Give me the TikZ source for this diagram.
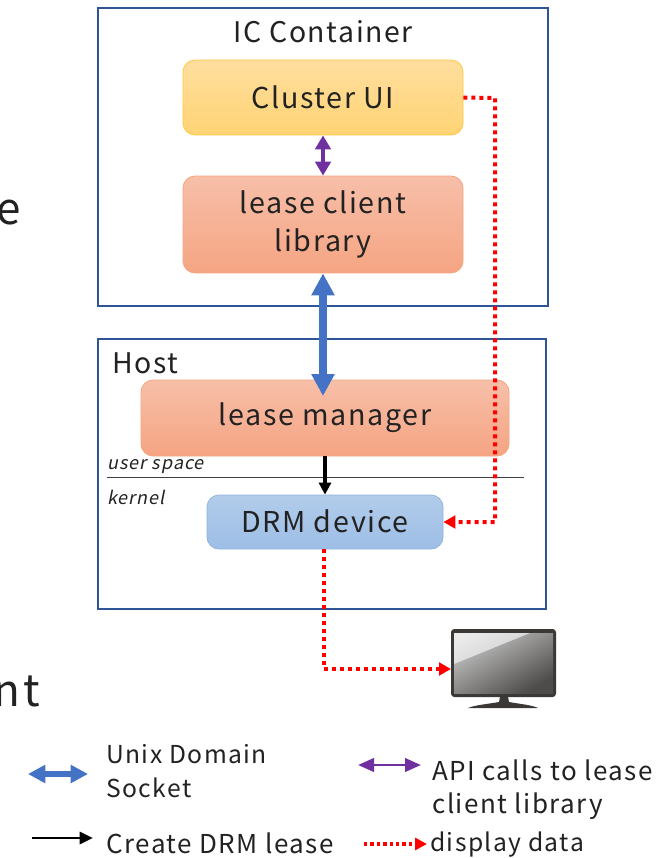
\documentclass[tikz,border=0pt]{standalone}
\usepackage{fontspec}
\setmainfont{Noto Sans CJK JP}[AutoFakeSlant=0.2,LetterSpace=5.7]
\usetikzlibrary{arrows.meta}
\definecolor{framec}{HTML}{2F5597}
\definecolor{bluec}{HTML}{4472C4}
\definecolor{purplec}{HTML}{7030A0}
\definecolor{txt}{HTML}{222222}
\definecolor{ytop}{HTML}{FFDE9E}
\definecolor{ybot}{HTML}{FFD475}
\definecolor{ybd}{HTML}{FFC83D}
\definecolor{otop}{HTML}{F7BFA9}
\definecolor{obot}{HTML}{F5A482}
\definecolor{obd}{HTML}{F4A67E}
\definecolor{btop}{HTML}{B2CCEA}
\definecolor{bbot}{HTML}{9DBEE6}
\definecolor{bbd}{HTML}{8FB4E0}
\definecolor{mondark}{HTML}{3B3835}
\definecolor{scrhi}{HTML}{EAEAEA}
\definecolor{scrmid}{HTML}{CDCDCD}
\definecolor{scrtop}{HTML}{C6C6C6}
\definecolor{scrbot}{HTML}{4E4C4A}
\tikzset{
  x=0.75pt,y=-0.75pt,
  frame/.style={draw=framec,line width=1.1pt,fill=white},
  colbox/.style={draw=#1,rounded corners=9pt,line width=0.6pt,text=txt,align=center,font=\fontsize{21.5}{28.5}\selectfont,inner sep=0pt},
  lab/.style={text=txt,font=\fontsize{21.3}{25}\selectfont,inner sep=0pt},
  leg/.style={text=txt,font=\fontsize{19.5}{25}\selectfont,inner sep=0pt,align=left,anchor=west},
  legsmall/.style={leg,font=\fontsize{18.5}{25}\selectfont},
  small/.style={text=txt,font=\itshape\fontsize{13.5}{15}\selectfont,inner sep=0pt,anchor=west},
  blueline/.style={bluec,line width=5.3pt,{Triangle[length=16.5pt,width=16.5pt]}-{Triangle[length=16.5pt,width=16.5pt]}},
  purpleline/.style={purplec,line width=3.6pt,{Triangle[length=10.5pt,width=11.5pt]}-{Triangle[length=10.5pt,width=11.5pt]}},
  blackline/.style={black,line width=3pt,-{Triangle[length=9pt,width=9pt]}},
  redline/.style={red,line width=3pt,dash pattern=on 3pt off 3pt,-{Triangle[length=9pt,width=9.5pt]}},
  legblue/.style={bluec,line width=4pt,{Triangle[length=13pt,width=13pt]}-{Triangle[length=13pt,width=13pt]}},
  legpurple/.style={purplec,line width=2.2pt,{Triangle[length=12pt,width=10pt]}-{Triangle[length=12pt,width=10pt]}},
  legblack/.style={black,line width=2.2pt,-{Triangle[length=10pt,width=9pt]}},
  legred/.style={red,line width=2.6pt,dash pattern=on 2.6pt off 2.2pt,-{Triangle[length=9pt,width=9pt]}},
}
\begin{document}
\begin{tikzpicture}
\useasboundingbox (0,0) rectangle (672,858);
\node[text=txt,font=\fontsize{33}{40}\selectfont,inner sep=0pt,anchor=base east] (cute) at (21,224) {e};
\node[text=txt,font=\fontsize{33}{40}\selectfont,inner sep=0pt,anchor=base east] (cutnt) at (40,706) {nt};

\draw[frame] (98,8) rectangle (548,306);
\draw[frame] (98,339) rectangle (546,609);
\node[lab,anchor=base] (ictitle) at (323,42) {IC Container};
\node[lab,anchor=base west] (hosttitle) at (112,373) {Host};

\node[colbox=ybd,top color=ytop,bottom color=ybot,minimum width=210pt,minimum height=56.2pt] (ui) at (323,97.5) {\raisebox{1pt}{Cluster UI}};
\node[colbox=obd,top color=otop,bottom color=obot,minimum width=210pt,minimum height=72.7pt] (lib) at (323,224.5) {lease client\\library};
\node[colbox=obd,top color=otop,bottom color=obot,minimum width=276pt,minimum height=57pt] (mgr) at (325,418) {\raisebox{-1.5pt}{lease manager}};
\node[colbox=bbd,top color=btop,bottom color=bbot,minimum width=177pt,minimum height=40.5pt] (drm) at (325,522) {\raisebox{1pt}{DRM device}};

\coordinate (sepa) at (107,477);
\coordinate (sepb) at (524,477);
\draw[black!75,line width=0.75pt] (sepa) -- (sepb);
\node[small] (us) at (107,467) {user space};
\node[small] (kn) at (107,497) {kernel};

% monitor
\fill[mondark,rounded corners=2.5pt] (451,629) rectangle (556,697);
\shade[top color=scrtop,bottom color=scrbot,shading angle=30] (454,633) rectangle (553,693);
\shade[top color=scrhi,bottom color=scrmid,shading angle=30] (454,633) -- (530,633) -- (454,664) -- cycle;
\fill[mondark] (500,697) -- (508,697) -- (509,702) .. controls (520,704) and (532,705) .. (538,708) -- (468,708) .. controls (475,705) and (488,704) .. (499,702) -- cycle;
\coordinate (mon) at (451,669);

\coordinate (bluetip) at (323,396);
\draw[blueline] (lib.south) -- (bluetip);
\draw[purpleline] (ui.south) -- (lib.north);
\draw[blackline] (mgr.south) -- (mgr.south |- drm.north);
\coordinate (rv) at (495,98);
\coordinate (rw) at (495,522);
\draw[redline] (ui.east) -- (rv) -- (rw) -- (drm.east);
\coordinate (mc) at (324,669);
\draw[redline] (drm.south -| mc) -- (mc) -- (mon);

% legend
\coordinate (l1a) at (28,774); \coordinate (l1b) at (88,774);
\coordinate (l2a) at (358,765); \coordinate (l2b) at (421,765);
\coordinate (l3a) at (32,838); \coordinate (l3b) at (93,838);
\coordinate (l4a) at (364,844); \coordinate (l4b) at (427,844);
\draw[legblue] (l1a) -- (l1b);
\draw[legpurple] (l2a) -- (l2b);
\draw[legblack] (l3a) -- (l3b);
\draw[legred] (l4a) -- (l4b);
\node[legsmall] (t1) at (106,771) {Unix Domain\\Socket};
\node[leg] (t2) at (432,790) {API calls to lease\\client library};
\node[leg] (t3) at (106,843) {Create DRM lease};
\node[legsmall] (t4) at (430,844.5) {display data};
\end{tikzpicture}
\end{document}
